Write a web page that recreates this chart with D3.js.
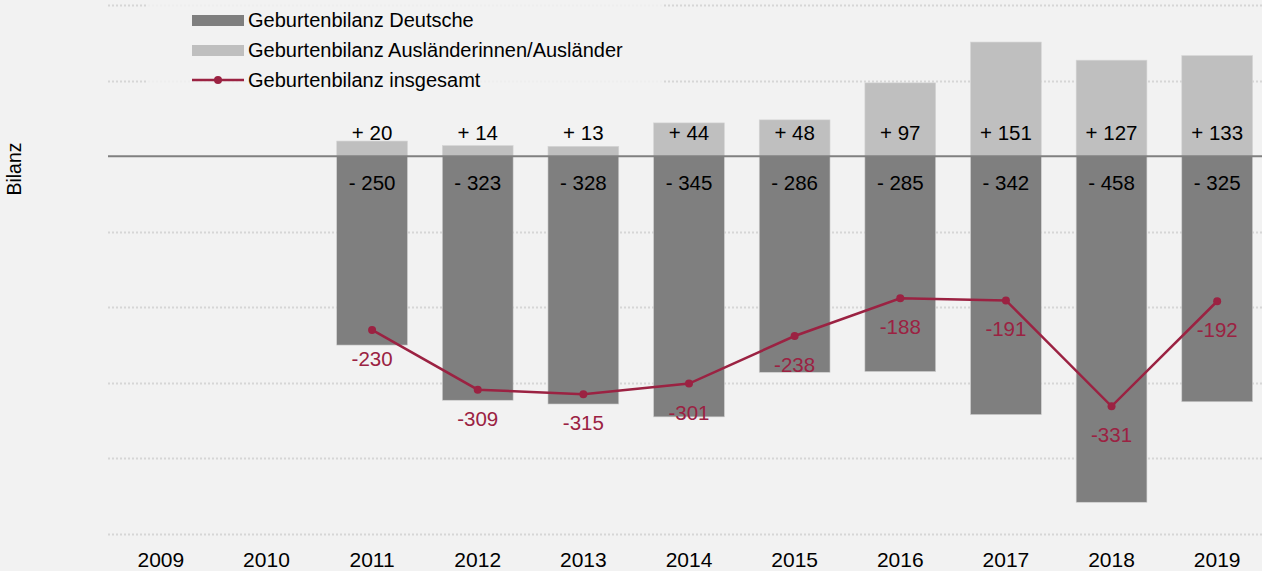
<!DOCTYPE html>
<html>
<head>
<meta charset="utf-8">
<script src="https://cdn.jsdelivr.net/npm/d3@7"></script>
<style>
  body { margin: 0; background: #f2f2f2; }
  svg { display: block; font-family: "Liberation Sans", Arial, sans-serif; }
</style>
</head>
<body>
<div id="chart"></div>
<script>
// data
const years = ['2009', '2010', '2011', '2012', '2013', '2014', '2015', '2016', '2017', '2018', '2019'];
const deutsche = [null, null, -250, -323, -328, -345, -286, -285, -342, -458, -325];
const auslaender = [null, null, 20, 14, 13, 44, 48, 97, 151, 127, 133];
const insgesamt = [null, null, -230, -309, -315, -301, -238, -188, -191, -331, -192];
const yTicks = [200, 100, -100, -200, -300, -400, -500];
const legendNames = ['Geburtenbilanz Deutsche', 'Geburtenbilanz Ausländerinnen/Ausländer', 'Geburtenbilanz insgesamt'];

const width = 1262;
const height = 571;
const darkGrey = '#7f7f7f';
const lightGrey = '#bfbfbf';
const red = '#9b2242';

const svg = d3.select('#chart')
  .append('svg')
  .attr('width', width)
  .attr('height', height);

svg.append('rect').attr('width', width).attr('height', height).attr('fill', '#f2f2f2');

// scales
const x = d3.scaleBand().domain(years).range([108, 1270]).paddingInner(0.33).paddingOuter(0.165);
const y = d3.scaleLinear().domain([-500, 200]).range([534, 5]);

// dotted gridlines
svg.append('g')
  .selectAll('line')
  .data(yTicks)
  .join('line')
  .attr('x1', 108)
  .attr('x2', width)
  .attr('y1', d => Math.round(y(d)) + 0.5)
  .attr('y2', d => Math.round(y(d)) + 0.5)
  .attr('stroke', '#d6d6d6')
  .attr('stroke-width', 2)
  .attr('stroke-dasharray', '2,2');

// legend box sits over the gridlines
svg.append('rect')
  .attr('x', 148).attr('y', 0)
  .attr('width', 516).attr('height', 96)
  .attr('fill', '#f2f2f2')
  .attr('opacity', 0.85);

const rows = years.map((yr, i) => ({ yr, de: deutsche[i], au: auslaender[i], tot: insgesamt[i] }))
  .filter(d => d.de !== null);

// bars
svg.append('g')
  .selectAll('rect')
  .data(rows)
  .join('rect')
  .attr('x', d => x(d.yr))
  .attr('width', x.bandwidth())
  .attr('y', y(0))
  .attr('height', d => y(d.de) - y(0))
  .attr('fill', darkGrey)
  .attr('stroke', '#cfcfcf')
  .attr('stroke-width', 0.6);

svg.append('g')
  .selectAll('rect')
  .data(rows)
  .join('rect')
  .attr('x', d => x(d.yr))
  .attr('width', x.bandwidth())
  .attr('y', d => y(d.au))
  .attr('height', d => y(0) - y(d.au))
  .attr('fill', lightGrey)
  .attr('stroke', '#d6d6d6')
  .attr('stroke-width', 0.6);

// zero line
svg.append('line')
  .attr('x1', 108).attr('x2', width)
  .attr('y1', y(0)).attr('y2', y(0))
  .attr('stroke', '#808080')
  .attr('stroke-width', 2);

// bar labels
const fontSize = 20.5;
svg.append('g')
  .selectAll('text')
  .data(rows)
  .join('text')
  .attr('x', d => x(d.yr) + x.bandwidth() / 2)
  .attr('y', y(0) - 16)
  .attr('text-anchor', 'middle')
  .attr('font-size', fontSize)
  .attr('fill', '#000')
  .text(d => '+ ' + d.au);

svg.append('g')
  .selectAll('text')
  .data(rows)
  .join('text')
  .attr('x', d => x(d.yr) + x.bandwidth() / 2)
  .attr('y', y(0) + 34)
  .attr('text-anchor', 'middle')
  .attr('font-size', fontSize)
  .attr('fill', '#000')
  .text(d => '- ' + Math.abs(d.de));

// total line
const cx = d => x(d.yr) + x.bandwidth() / 2;
svg.append('path')
  .datum(rows)
  .attr('fill', 'none')
  .attr('stroke', red)
  .attr('stroke-width', 2.5)
  .attr('d', d3.line().x(cx).y(d => y(d.tot)));

svg.append('g')
  .selectAll('circle')
  .data(rows)
  .join('circle')
  .attr('cx', cx)
  .attr('cy', d => y(d.tot))
  .attr('r', 4)
  .attr('fill', red);

svg.append('g')
  .selectAll('text')
  .data(rows)
  .join('text')
  .attr('x', cx)
  .attr('y', d => y(d.tot) + 36)
  .attr('text-anchor', 'middle')
  .attr('font-size', fontSize)
  .attr('fill', red)
  .text(d => d.tot);

// x axis labels
const xAxis = svg.append('g')
  .attr('transform', `translate(0, 552)`)
  .call(d3.axisBottom(x).tickSize(0).tickPadding(0));
xAxis.select('.domain').remove();
xAxis.selectAll('text')
  .attr('font-size', 21)
  .attr('font-family', '"Liberation Sans", Arial, sans-serif')
  .attr('fill', '#000')
  .attr('dy', '0.71em');

// y axis title
svg.append('text')
  .attr('transform', 'translate(21, 169) rotate(-90)')
  .attr('text-anchor', 'middle')
  .attr('font-size', 19.5)
  .attr('fill', '#000')
  .text('Bilanz');

// legend
const legend = svg.append('g');
legendNames.forEach((name, i) => {
  const ly = 20 + i * 30;
  const g = legend.append('g').attr('transform', `translate(192, ${ly})`);
  if (i < 2) {
    g.append('rect')
      .attr('x', 0).attr('y', -5)
      .attr('width', 52).attr('height', 11)
      .attr('fill', i === 0 ? darkGrey : lightGrey);
  } else {
    g.append('line').attr('x1', 0).attr('x2', 52).attr('stroke', red).attr('stroke-width', 2.5);
    g.append('circle').attr('cx', 26).attr('r', 4).attr('fill', red);
  }
  g.append('text')
    .attr('x', 56)
    .attr('dy', '0.35em')
    .attr('font-size', 20)
    .attr('fill', '#000')
    .text(name);
});
</script>
</body>
</html>
